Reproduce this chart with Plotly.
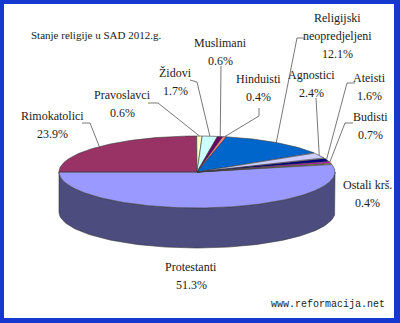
import numpy as np
import plotly.graph_objects as go

# ---------------- data ----------------
categories = ["Protestanti", "Rimokatolici", "Pravoslavci", "Židovi", "Muslimani",
              "Hinduisti", "Religijski neopredjeljeni", "Agnostici", "Ateisti",
              "Budisti", "Ostali krš."]
values = [51.3, 23.9, 0.6, 1.7, 0.6, 0.4, 12.1, 2.4, 1.6, 0.7, 0.4]
label_lines = ["Protestanti", "Rimokatolici", "Pravoslavci", "Židovi", "Muslimani",
               "Hinduisti", "Religijski<br>neopredjeljeni", "Agnostici", "Ateisti",
               "Budisti", "Ostali krš."]
title_text = "Stanje religije u SAD 2012.g."
source_text = "www.reformacija.net"

# ---------------- styles / layout ----------------
colors = ["#9999FF", "#993366", "#FFFFCC", "#CCFFFF", "#660066", "#FF8080",
          "#0066CC", "#CCCCFF", "#000080", "#FF00FF", "#FFFF00"]
W, H = 400, 323
CX, CY, RX, RY, DEPTH = 197, 172, 138, 36, 40
FONT = "Liberation Serif, serif"
TXT = "#222222"
EDGE = "#3a3a3a"
LEAD = "#555555"

# label name-line centres (x, y) and leader elbow points (before slice point)
label_pos = {
    "Protestanti": (191, 267),
    "Rimokatolici": (52, 116),
    "Pravoslavci": (122, 95),
    "Židovi": (175, 73),
    "Muslimani": (220, 43),
    "Hinduisti": (258, 79),
    "Religijski neopredjeljeni": (337, 18),
    "Agnostici": (311, 75),
    "Ateisti": (369, 78),
    "Budisti": (370, 117),
    "Ostali krš.": (367, 185),
}
leader_elbows = {
    "Rimokatolici": [(82, 123), (90, 123)],
    "Pravoslavci": [(148, 103), (158, 103)],
    "Židovi": [(190, 80), (197, 82)],
    "Muslimani": [(221, 66)],
    "Hinduisti": [(259, 108), (259, 116)],
    "Religijski neopredjeljeni": [(304, 38), (297, 38)],
    "Agnostici": [(316, 98)],
    "Ateisti": [(355, 83), (347, 83)],
    "Budisti": [(353, 123), (345, 123)],
}
LINE_GAP = 18


def darken(hexc, f=0.5):
    r, g, b = (int(hexc[i:i + 2], 16) for i in (1, 3, 5))
    return "#%02x%02x%02x" % (int(r * f), int(g * f), int(b * f))


def ell(theta_deg, dy=0.0):
    t = np.radians(theta_deg)
    return CX + RX * np.cos(t), CY - RY * np.sin(t) + dy


total = float(sum(values))
spans = [v / total * 360.0 for v in values]
start = 180.0 + spans[0]
bounds = []
a = start
for s in spans:
    bounds.append((a, a - s))  # clockwise on screen: decreasing angle
    a -= s

fig = go.Figure()

# side walls (visible front half: angles 180..360 modulo 360)
for (a0, b0), c in zip(bounds, colors):
    lo, hi = b0, a0
    for k in (-360, 0, 360):
        l2, h2 = max(lo, 180 + k), min(hi, 360 + k)
        if h2 - l2 <= 1e-6:
            continue
        th = np.linspace(l2, h2, 120)
        xt, yt = ell(th)
        xb, yb = ell(th[::-1], DEPTH)
        fig.add_trace(go.Scatter(
            x=np.concatenate([xt, xb, xt[:1]]), y=np.concatenate([yt, yb, yt[:1]]),
            mode="lines", fill="toself", fillcolor=darken(c),
            line=dict(color=EDGE, width=0.6), hoverinfo="skip", showlegend=False))

# top faces
for (a0, b0), c in zip(bounds, colors):
    n = max(4, int((a0 - b0) * 2))
    th = np.linspace(a0, b0, n)
    xs, ys = ell(th)
    fig.add_trace(go.Scatter(
        x=np.concatenate([[CX], xs, [CX]]), y=np.concatenate([[CY], ys, [CY]]),
        mode="lines", fill="toself", fillcolor=c,
        line=dict(color=EDGE, width=0.6), hoverinfo="skip", showlegend=False))

# leader lines
for name, (a0, b0) in zip(categories, bounds):
    if name not in leader_elbows:
        continue
    mx, my = ell((a0 + b0) / 2.0)
    pts = leader_elbows[name] + [(mx, my)]
    fig.add_trace(go.Scatter(
        x=[p[0] for p in pts], y=[p[1] for p in pts], mode="lines",
        line=dict(color=LEAD, width=0.8), hoverinfo="skip", showlegend=False))

annotations = []
for name, lab, v in zip(categories, label_lines, values):
    x, y = label_pos[name]
    parts = lab.split("<br>") + [f"{v:.1f}%"]
    for i, p in enumerate(parts):
        annotations.append(dict(x=x, y=y + i * LINE_GAP, xref="x", yref="y", text=p,
                                showarrow=False, xanchor="center", yanchor="middle",
                                font=dict(family=FONT, size=12, color=TXT)))
annotations.append(dict(x=29, y=35, xref="x", yref="y", text=title_text, showarrow=False,
                        xanchor="left", yanchor="middle",
                        font=dict(family=FONT, size=11, color=TXT)))
annotations.append(dict(x=387, y=304, xref="x", yref="y", text=source_text, showarrow=False,
                        xanchor="right", yanchor="middle",
                        font=dict(family="Liberation Mono, monospace", size=10, color=TXT)))

fig.update_layout(
    width=W, height=H, margin=dict(l=0, r=0, t=0, b=0),
    paper_bgcolor="#1538cf", plot_bgcolor="rgba(0,0,0,0)",
    xaxis=dict(range=[0, W], visible=False, fixedrange=True),
    yaxis=dict(range=[H, 0], visible=False, fixedrange=True),
    shapes=[dict(type="rect", xref="paper", yref="paper", x0=4 / W, x1=1 - 6 / W,
                 y0=5 / H, y1=1 - 4 / H, fillcolor="white", line=dict(width=0),
                 layer="below")],
    annotations=annotations,
)

fig.write_html("out.html")
